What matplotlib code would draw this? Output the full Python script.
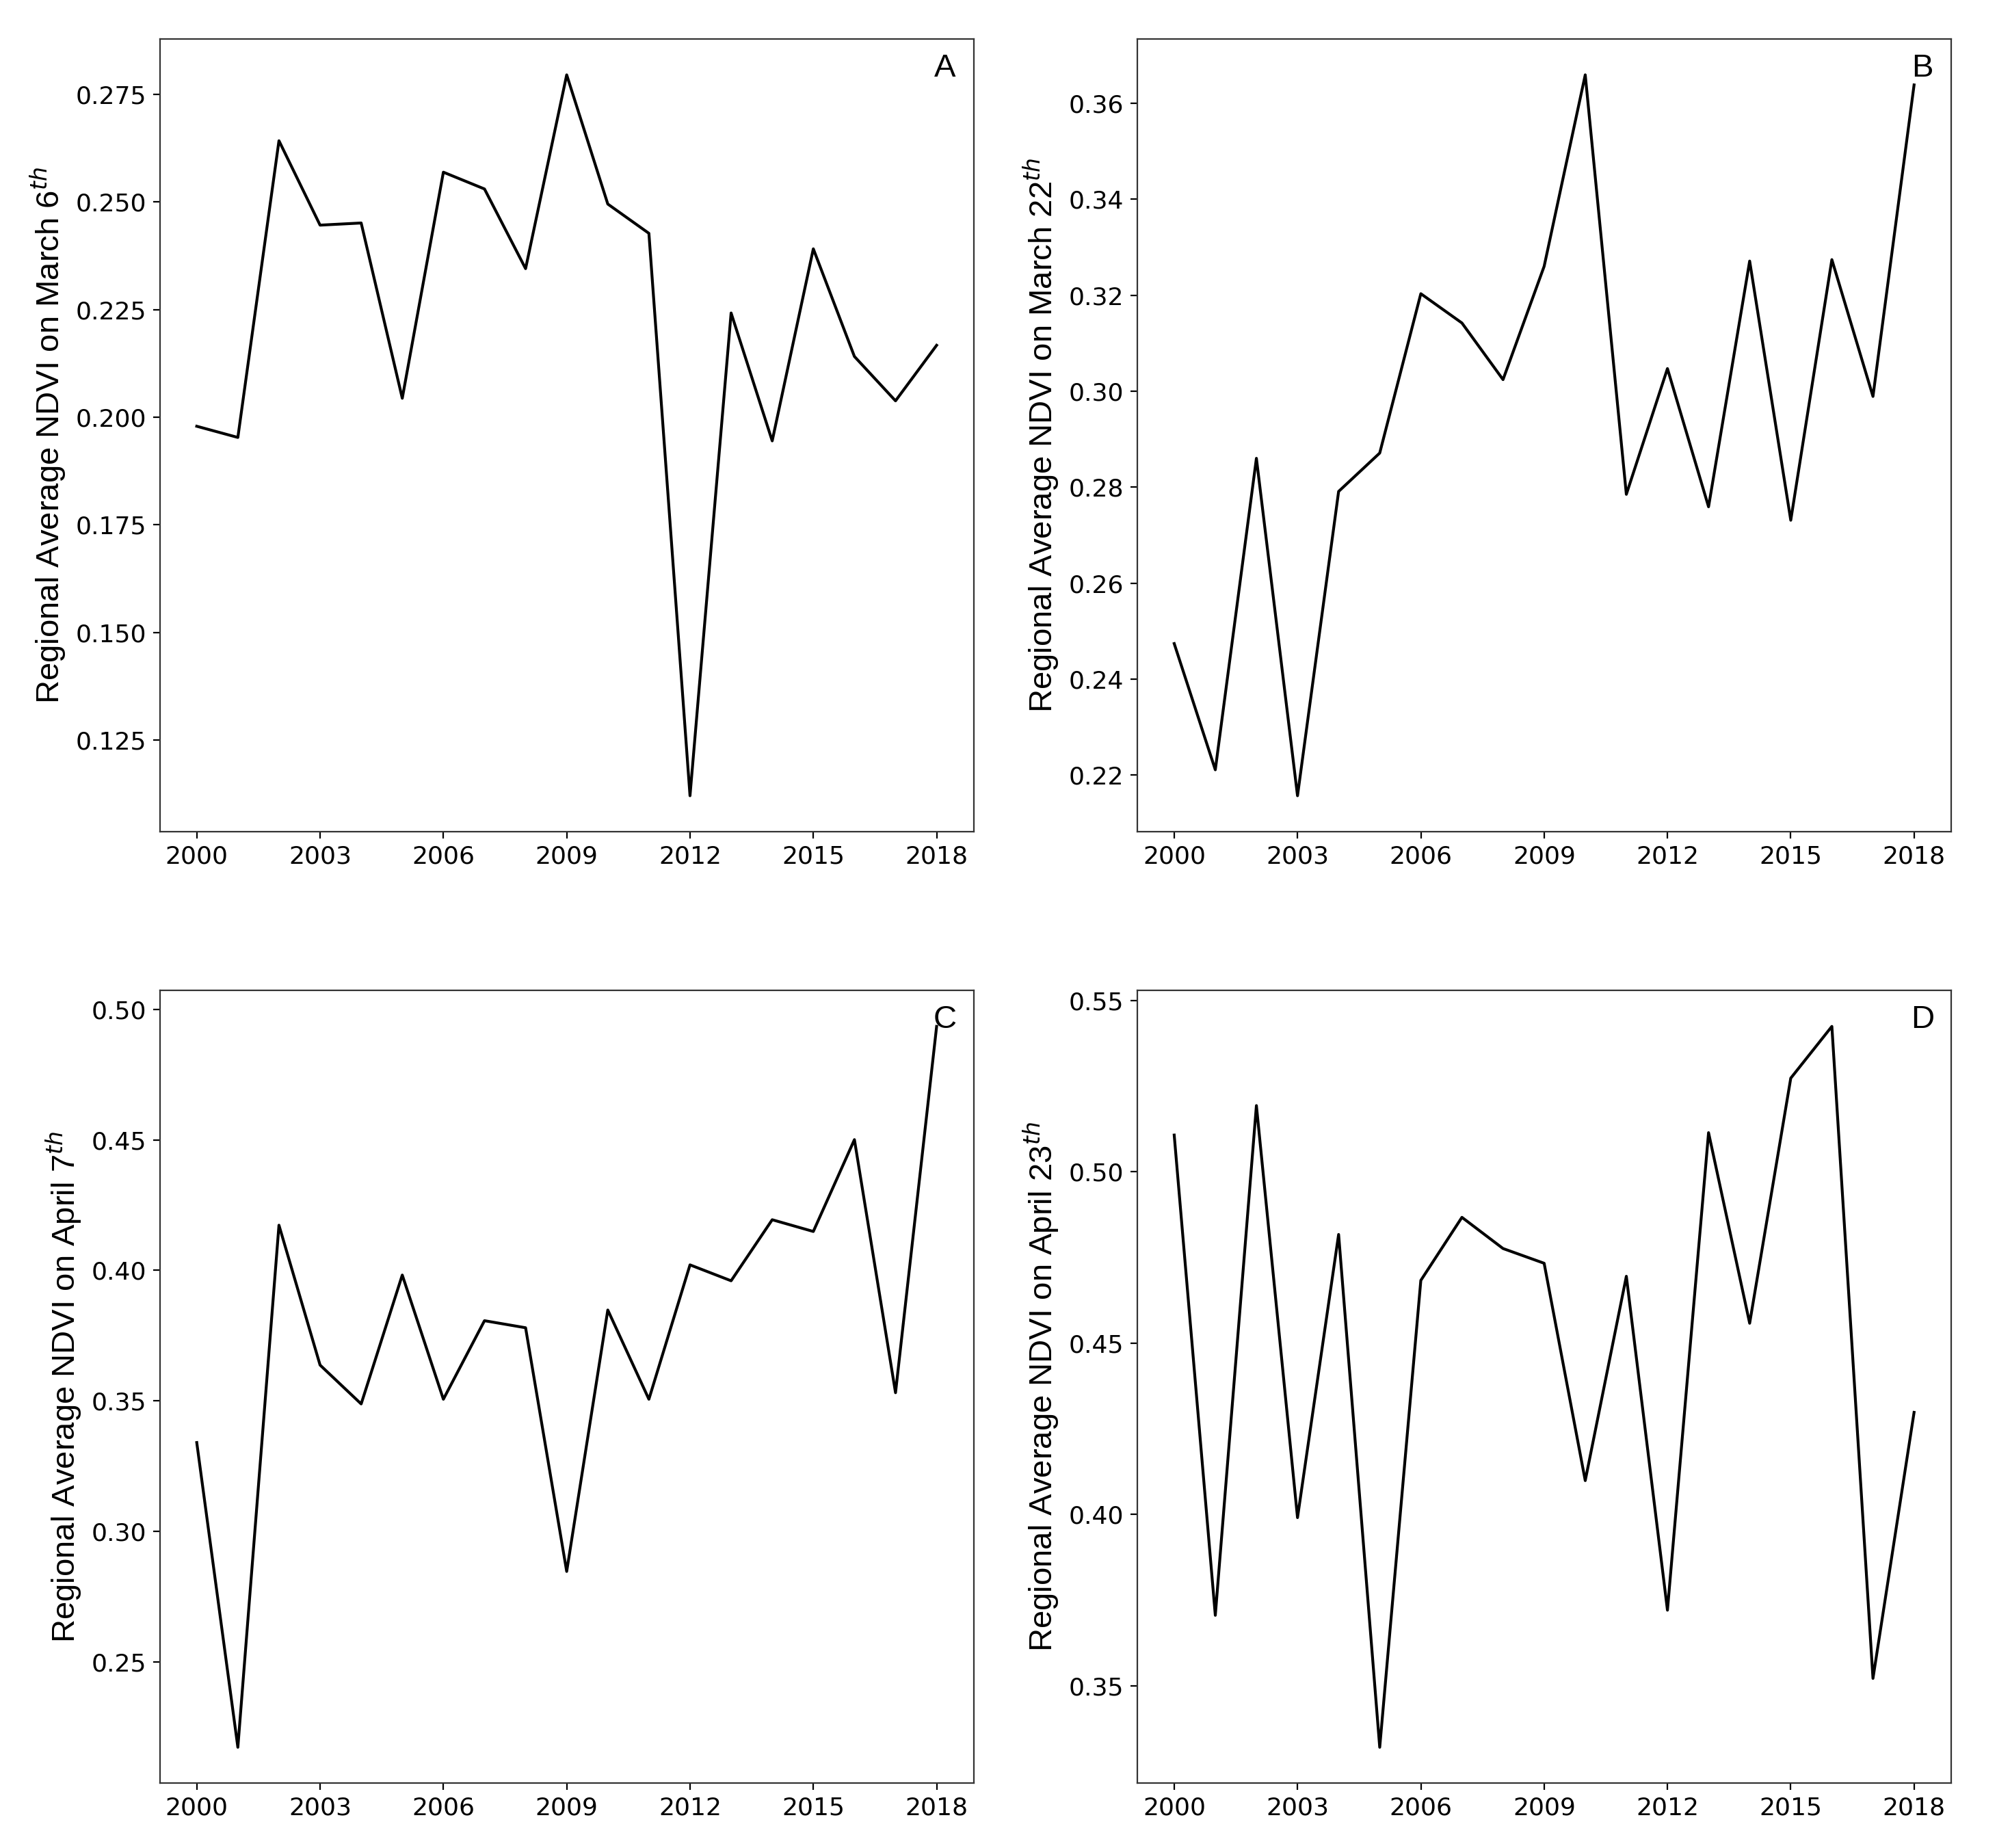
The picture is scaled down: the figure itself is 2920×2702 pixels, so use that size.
import matplotlib
matplotlib.use('Agg')
import matplotlib.pyplot as plt

# Years shared by all four panels
years = list(range(2000, 2019))

# Regional average NDVI
ndvi_mar06 = [0.1979, 0.1953, 0.2642, 0.2446, 0.2451, 0.2044, 0.2569, 0.2530, 0.2345, 0.2795,
              0.2495, 0.2427, 0.1121, 0.2242, 0.1945, 0.2391, 0.2141, 0.2038, 0.2167]
ndvi_mar22 = [0.2474, 0.2211, 0.2860, 0.2157, 0.2791, 0.2871, 0.3203, 0.3142, 0.3024, 0.3260,
              0.3659, 0.2785, 0.3047, 0.2759, 0.3271, 0.2731, 0.3274, 0.2989, 0.3638]
ndvi_apr07 = [0.3340, 0.2172, 0.4173, 0.3637, 0.3488, 0.3982, 0.3506, 0.3807, 0.3780, 0.2846,
              0.3848, 0.3506, 0.4021, 0.3960, 0.4194, 0.4149, 0.4501, 0.3531, 0.4935]
ndvi_apr23 = [0.5107, 0.3706, 0.5193, 0.3991, 0.4817, 0.3321, 0.4683, 0.4867, 0.4776, 0.4733,
              0.4099, 0.4695, 0.3721, 0.5114, 0.4558, 0.5273, 0.5424, 0.3522, 0.4298]

series = [ndvi_mar06, ndvi_mar22, ndvi_apr07, ndvi_apr23]
dates = ['March 6', 'March 22', 'April 7', 'April 23']
letters = ['A', 'B', 'C', 'D']
xticks = list(range(2000, 2019, 3))

fig, axes = plt.subplots(2, 2, figsize=(14.6, 13.51), dpi=200)
fig.subplots_adjust(left=0.080, right=0.977, top=0.979, bottom=0.035,
                    wspace=0.201, hspace=0.2)

for ax, vals, date, letter in zip(axes.flat, series, dates, letters):
    ax.plot(years, vals, color='black', linewidth=1.5)
    ax.set_xticks(xticks)
    ax.tick_params(labelsize=13)
    ax.set_ylabel('Regional Average NDVI on ' + date + '$^{th}$',
                  fontsize=17, family='Liberation Sans')
    ax.text(0.965, 0.963, letter, transform=ax.transAxes, ha='center', va='center',
            fontsize=17, family='Liberation Sans')
    for sp in ax.spines.values():
        sp.set_color('#333333')

plt.savefig('out.png', dpi=200)
